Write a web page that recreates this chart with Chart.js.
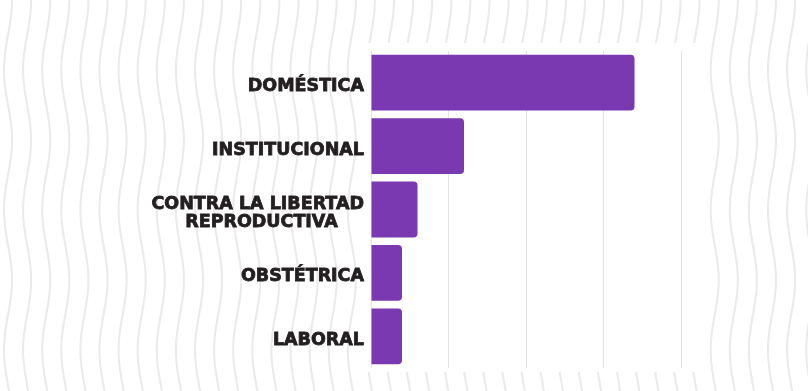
<!DOCTYPE html>
<html lang="es">
<head>
  <meta charset="UTF-8">
  <title>Tipos de violencia</title>
  <script src="https://cdn.jsdelivr.net/npm/chart.js"></script>
  <style>
    html, body {
      margin: 0;
      padding: 0;
      background: #ffffff;
    }
    #wrap {
      width: 808px;
      height: 391px;
    }
  </style>
</head>
<body>
  <div id="wrap"><canvas id="chart" width="808" height="391"></canvas></div>

  <script>
    // Datos
    const categories = ['DOMÉSTICA', 'INSTITUCIONAL', 'CONTRA LA LIBERTAD\nREPRODUCTIVA', 'OBSTÉTRICA', 'LABORAL'];
    const values = [17, 6, 3, 2, 2];
    const xMax = 20;
    const xStep = 5;

    const labelFont = { family: 'DejaVu Sans', size: 17.5, weight: 'bold', lineHeight: 1.05 };

    // centra las lineas de una etiqueta de varias lineas rellenando con espacios
    const measureCtx = document.createElement('canvas').getContext('2d');
    measureCtx.font = 'bold 17.5px "DejaVu Sans"';
    function splitLabel(label) {
      const lines = label.split('\n');
      if (lines.length < 2) return label;
      const widths = lines.map(l => measureCtx.measureText(l).width);
      const widest = Math.max(...widths);
      const sp = measureCtx.measureText('\u2002').width;
      return lines.map((l, i) => l + '\u2002'.repeat(Math.round((widest - widths[i]) / 2 / sp)));
    }

    // fondo con ondas y recuadro blanco detras de la grafica
    const backdrop = {
      id: 'backdrop',
      beforeDraw(chart) {
        const ctx = chart.ctx;
        const a = chart.chartArea;
        ctx.save();
        ctx.fillStyle = '#ffffff';
        ctx.fillRect(0, 0, chart.width, chart.height);
        ctx.strokeStyle = '#eaeaea';
        ctx.lineWidth = 2;
        for (let x0 = 8; x0 < chart.width + 20; x0 += 19.1) {
          ctx.beginPath();
          for (let y = -2; y <= chart.height + 2; y += 3) {
            const x = x0 + 4 * Math.cos(2 * Math.PI * y / 140);
            if (y === -2) ctx.moveTo(x, y); else ctx.lineTo(x, y);
          }
          ctx.stroke();
        }
        ctx.fillStyle = '#ffffff';
        ctx.fillRect(a.left - 9, a.top - 8, a.width + 30, a.height + 12);
        ctx.restore();
      }
    };

    new Chart(document.getElementById('chart'), {
      type: 'bar',
      data: {
        labels: categories.map(splitLabel),
        datasets: [{
          data: values,
          backgroundColor: '#7a38b1',
          borderRadius: 4,
          borderSkipped: 'start',
          barPercentage: 0.88,
          categoryPercentage: 1
        }]
      },
      options: {
        indexAxis: 'y',
        responsive: false,
        animation: false,
        layout: {
          padding: { left: 0, right: 127, top: 51, bottom: 23 }
        },
        plugins: {
          legend: { display: false },
          tooltip: { enabled: false }
        },
        scales: {
          x: {
            min: 0,
            max: xMax,
            ticks: { display: false, stepSize: xStep },
            grid: { color: '#e4e4e4', lineWidth: 1, drawTicks: false },
            border: { display: false }
          },
          y: {
            grid: { display: false, drawTicks: false },
            border: { display: false },
            ticks: {
              color: '#231f20',
              font: labelFont,
              padding: 7,
              labelOffset: 4,
              textStrokeColor: '#231f20',
              textStrokeWidth: 0.8
            },
            afterFit(scale) {
              scale.width = 371;
            }
          }
        }
      },
      plugins: [backdrop]
    });
  </script>
</body>
</html>
